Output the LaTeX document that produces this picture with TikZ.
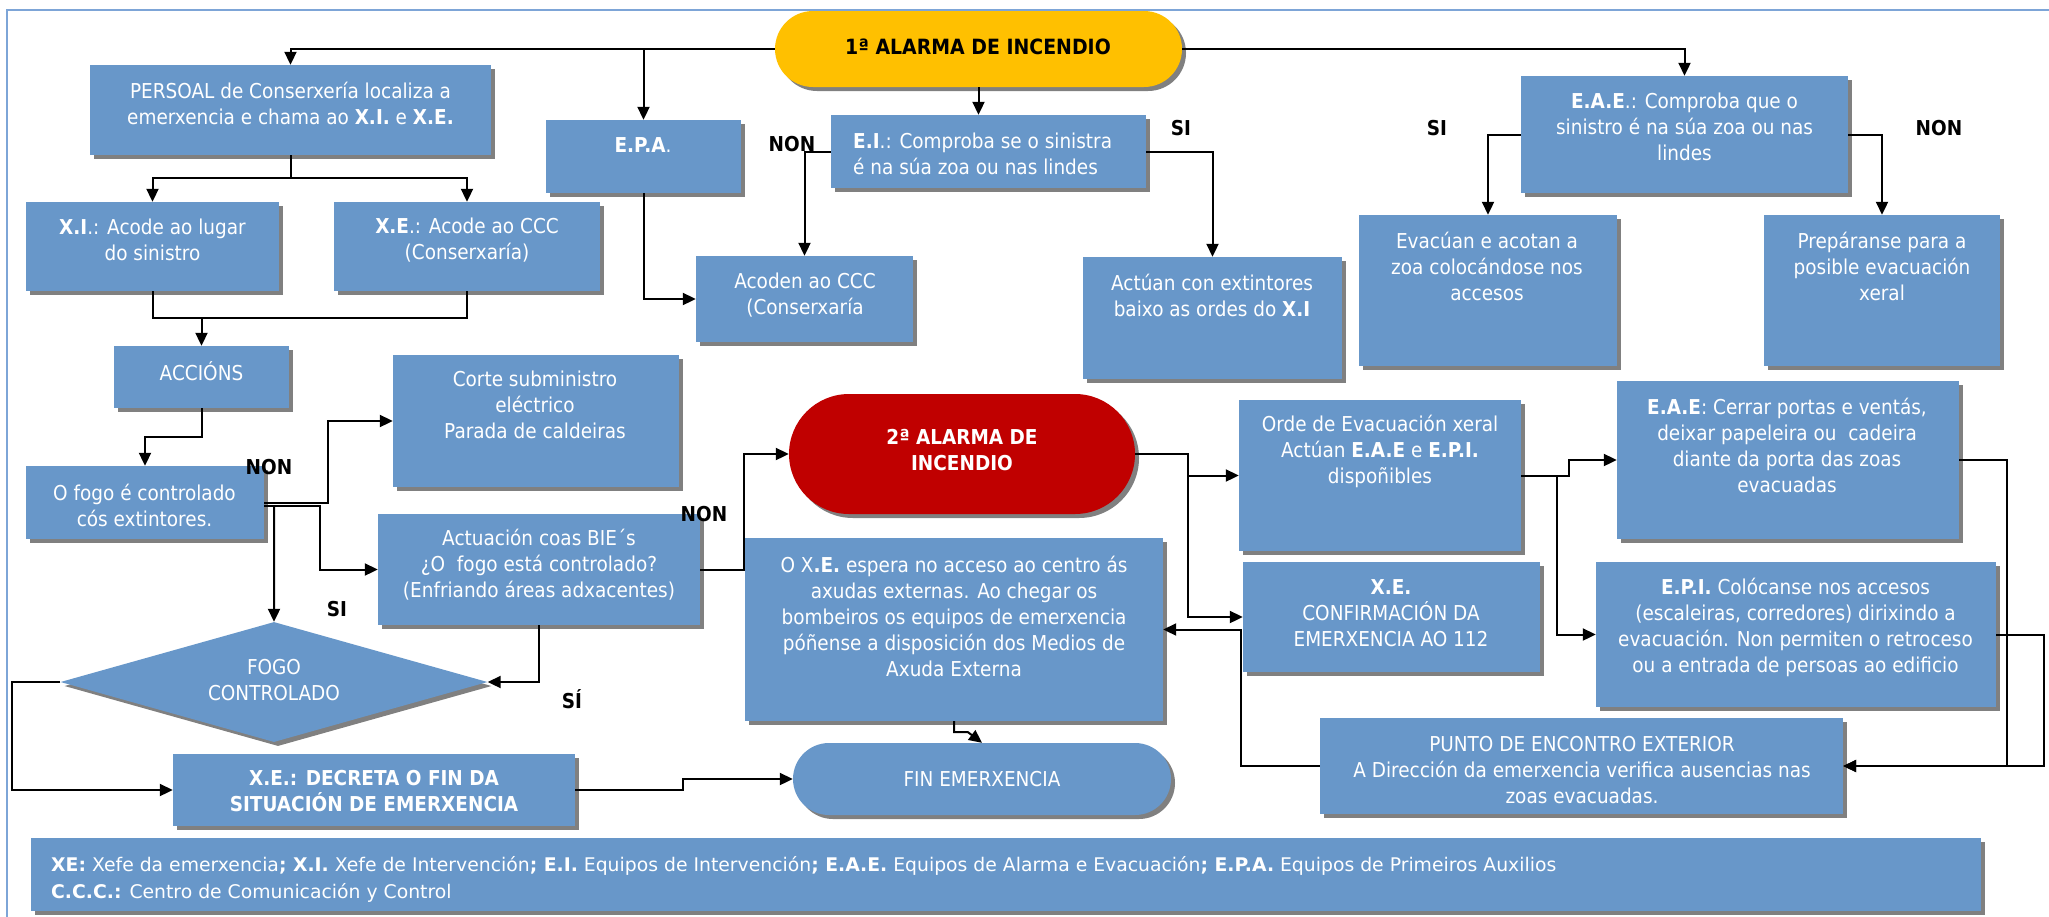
\documentclass[tikz,border=0pt]{standalone}
\usepackage{fontspec}
\setmainfont{DejaVu Sans}[FakeStretch=0.9]
\newfontfamily\legfont{DejaVu Sans}
\usetikzlibrary{arrows.meta,shapes.geometric,shadows,fit,calc}
\definecolor{boxblue}{RGB}{104,151,201}
\definecolor{shgrey}{RGB}{128,128,128}
\definecolor{alarmyellow}{RGB}{255,192,0}
\definecolor{alarmred}{RGB}{192,0,0}
\definecolor{framec}{RGB}{125,165,215}
\begin{document}
\begin{tikzpicture}[x=1pt,y=-1pt,
  shd/.style={drop shadow={shadow xshift=4pt,shadow yshift=-4pt,fill=shgrey,opacity=1}},
  bx/.style={rectangle,fill=boxblue,draw=none,inner sep=0pt,shd},
  txt/.style={text=white,align=center,inner sep=0pt,font=\fontsize{20.5}{26}\selectfont},
  lbl/.style={text=black,inner sep=0pt,font=\bfseries\fontsize{20.5}{26}\selectfont},
  ln/.style={draw=black,line width=2pt},
  arr/.style={ln,-{Triangle[length=13pt,width=12pt]}},
]
\useasboundingbox (0,0) rectangle (2049,916);
\draw[framec,line width=2.5pt] (7,10) rectangle (2120,980);

% ---------- boxes ----------
\node[bx,fit={(90,65) (491,155)}] (persoal) {};
\node[txt] (tpersoal) at (290.5,103) {PERSOAL de Conserxería localiza a\\emerxencia e chama ao \textbf{X.I.} e \textbf{X.E.}};

\node[bx,fit={(546,120) (741,193)}] (epa) {};
\node[txt] (tepa) at (643,145) {\textbf{E.P.A}.};

\node[bx,fit={(26,202) (279,291)}] (xi) {};
\node[txt] (txi) at (152.5,240) {\textbf{X.I}.: Acode ao lugar\\do sinistro};

\node[bx,fit={(334,202) (600,291)}] (xe) {};
\node[txt] (txe) at (467,240) {\textbf{X.E}.: Acode ao CCC\\(Conserxaría)};

\node[rectangle,fill=alarmyellow,rounded corners=38pt,inner sep=0pt,shd,fit={(775,11) (1182,87)}] (alarm1) {};
\node[lbl,font=\bfseries\fontsize{21}{26}\selectfont] (talarm1) at (978,47) {1ª ALARMA DE INCENDIO};

\node[bx,fit={(831,115) (1146,188)}] (ei) {};
\node[txt,align=left,anchor=west] (tei) at (853,154) {\textbf{E.I}.: Comproba se o sinistra\\é na súa zoa ou nas lindes};

\node[bx,fit={(696,256) (913,342)}] (acoden) {};
\node[txt] (tacoden) at (805,295) {Acoden ao CCC\\(Conserxaría};

\node[bx,fit={(1083,257) (1342,379)}] (actuan) {};
\node[txt] (tactuan) at (1212,295) {Actúan con extintores\\baixo as ordes do \textbf{X.I}};

\node[bx,fit={(1521,76) (1848,193)}] (eae) {};
\node[txt] (teae) at (1684.5,127) {\textbf{E.A.E}.: Comproba que o\\sinistro é na súa zoa ou nas\\lindes};

\node[bx,fit={(1359,215) (1617,366)}] (evac) {};
\node[txt] (tevac) at (1487,266) {Evacúan e acotan a\\zoa colocándose nos\\accesos};

\node[bx,fit={(1764,215) (2000,366)}] (prep) {};
\node[txt] (tprep) at (1882,266) {Prepáranse para a\\posible evacuación\\xeral};

\node[bx,fit={(114,346) (289,408)}] (accions) {};
\node[txt] (taccions) at (201.5,371) {ACCIÓNS};

\node[bx,fit={(393,355) (679,487)}] (corte) {};
\node[txt] (tcorte) at (535,405) {Corte subministro\\eléctrico\\Parada de caldeiras};

\node[bx,fit={(26,466) (264,539)}] (ofogo) {};
\node[txt] (tofogo) at (144.5,505) {O fogo é controlado\\cós extintores.};

\node[bx,fit={(378,514) (700,625)}] (actuacion) {};
\node[txt] (tactuacion) at (539,565) {Actuación coas BIE´s\\¿O\ \ fogo está controlado?\\(Enfriando áreas adxacentes)};

\node[diamond,fill=boxblue,inner sep=0pt,minimum width=427pt,minimum height=120pt,shd] (diamond) at (274,682) {};
\node[txt] (tdiamond) at (274,680) {FOGO\\CONTROLADO};

\node[bx,fit={(173,754) (575,826)}] (xedecreta) {};
\node[txt,font=\bfseries\fontsize{20.5}{26}\selectfont] (txedecreta) at (374,791) {X.E.: DECRETA O FIN DA\\SITUACIÓN DE EMERXENCIA};

\node[rectangle,fill=alarmred,rounded corners=60pt,inner sep=0pt,shd,fit={(789,394) (1135,514)}] (alarm2) {};
\node[txt,font=\bfseries\fontsize{20.5}{26}\selectfont] (talarm2) at (962,450) {2ª ALARMA DE\\INCENDIO};

\node[bx,fit={(745,538) (1163,721)}] (oxe) {};
\node[txt] (toxe) at (954,616) {O X\textbf{.E.} espera no acceso ao centro ás\\axudas externas. Ao chegar os\\bombeiros os equipos de emerxencia\\póñense a disposición dos Medios de\\Axuda Externa};

\node[rectangle,fill=boxblue,rounded corners=36pt,inner sep=0pt,shd,fit={(793,743) (1171,815)}] (fin) {};
\node[txt] (tfin) at (982,779) {FIN EMERXENCIA};

\node[bx,fit={(1239,400) (1521,551)}] (orde) {};
\node[txt] (torde) at (1380,451) {Orde de Evacuación xeral\\Actúan \textbf{E.A.E} e \textbf{E.P.I.}\\dispoñibles};

\node[bx,fit={(1243,562) (1540,672)}] (xeconf) {};
\node[txt] (txeconf) at (1391,613) {\textbf{X.E.}\\CONFIRMACIÓN DA\\EMERXENCIA AO 112};

\node[bx,fit={(1617,381) (1959,539)}] (eaecerrar) {};
\node[txt] (teaecerrar) at (1787,445) {\textbf{E.A.E}: Cerrar portas e ventás,\\deixar papeleira ou\ \ cadeira\\diante da porta das zoas\\evacuadas};

\node[bx,fit={(1596,562) (1996,707)}] (epi) {};
\node[txt] (tepi) at (1795.5,627) {\textbf{E.P.I.} Colócanse nos accesos\\(escaleiras, corredores) dirixindo a\\evacuación. Non permiten o retroceso\\ou a entrada de persoas ao edificio};

\node[bx,fit={(1320,718) (1843,814)}] (punto) {};
\node[txt] (tpunto) at (1582,770) {PUNTO DE ENCONTRO EXTERIOR\\A Dirección da emerxencia verifica ausencias nas\\zoas evacuadas.};

\node[bx,fit={(31,838) (1981,911)}] (legend) {};
\node[text=white,align=left,anchor=west,inner sep=0pt,font=\legfont\fontsize{18.8}{27}\selectfont] (tlegend) at (51,879) {\textbf{XE:} Xefe da emerxencia\textbf{; X.I.} Xefe de Intervención\textbf{; E.I.} Equipos de Intervención\textbf{; E.A.E.} Equipos de Alarma e Evacuación\textbf{; E.P.A.} Equipos de Primeiros Auxilios\\\textbf{C.C.C.:} Centro de Comunicación y Control};

% ---------- labels ----------
\node[lbl] (l1) at (792,144) {NON};
\node[lbl] (l2) at (1181,128) {SI};
\node[lbl] (l3) at (1437,128) {SI};
\node[lbl] (l4) at (1939,128) {NON};
\node[lbl] (l5) at (269,467) {NON};
\node[lbl] (l6) at (704,514) {NON};
\node[lbl] (l7) at (337,609) {SI};
\node[lbl] (l8) at (572,699) {SÍ};

% ---------- connectors ----------
\draw[arr] (alarm1.west) -| (persoal.north);
\draw[arr] (alarm1.west -| epa.north) -- (epa.north);
\draw[arr] (alarm1.south) -- (alarm1.south |- ei.north);
\draw[arr] (alarm1.east) -| (eae.north);
\coordinate (j0) at ($(persoal.south)+(0,23)$);
\draw[ln] (persoal.south) -- (j0);
\draw[arr] (j0) -| (xi.north);
\draw[arr] (j0) -| (xe.north);
\coordinate (j1) at ($(xi.south)+(0,27)$);
\draw[ln] (xi.south) -- (j1) -| (xe.south);
\draw[arr] (j1 -| accions.north) -- (accions.north);
\draw[arr] (epa.south) |- (acoden.west);
\draw[arr] (ei.west) -| (acoden.north);
\draw[arr] (ei.east) -| (actuan.north);
\draw[arr] (eae.west) -| (evac.north);
\draw[arr] (eae.east) -| (prep.north);
\draw[arr] (accions.south) -- ++(0,29) -| (ofogo.north);
\draw[arr] (ofogo.east) -- ++(64,0) |- (corte.west);
\draw[arr] ([yshift=-3pt]ofogo.east) -- ++(56,0) |- (actuacion.west);
\draw[arr] ([xshift=10pt,yshift=-3pt]ofogo.east) -- (diamond.north);
\draw[arr] (actuacion.south) |- (diamond.east);
\draw[arr] (actuacion.east) -- ++(44,0) |- (alarm2.west);
\draw[arr] (diamond.west) -- ++(-48,0) |- (xedecreta.west);
\draw[arr] (xedecreta.east) -- ++(108,0) |- (fin.west);
\draw[arr] (oxe.south) -- ++(0,11) -- ++(14,0) -- (fin.north);
\draw[arr] (alarm2.east) -- ++(53,0) |- (orde.west);
\draw[arr] ([xshift=53pt]alarm2.east) |- (xeconf.west);
\draw[arr] (punto.west) -- ++(-78.5,0) |- (oxe.east);
\draw[arr] (orde.east) -- ++(48,0) |- (eaecerrar.west);
\draw[arr] ([xshift=36pt]orde.east) |- (epi.west);
\draw[arr] (eaecerrar.east) -- ++(48,0) |- (punto.east);
\draw[arr] (epi.east) -- ++(47.5,0) |- (punto.east);
\end{tikzpicture}
\end{document}
